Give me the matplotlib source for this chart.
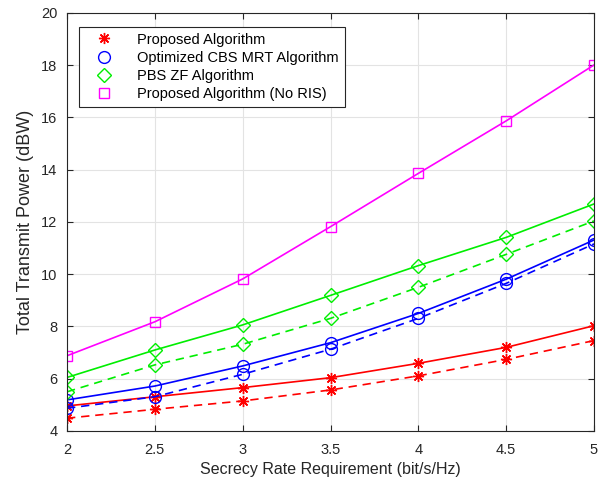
import matplotlib
matplotlib.use('Agg')
import matplotlib.pyplot as plt
from matplotlib.lines import Line2D

plt.rcParams['font.family'] = ['Liberation Sans', 'DejaVu Sans']

rate = [2, 2.5, 3, 3.5, 4, 4.5, 5]

# solid = one setting, dashed = the other
prop_solid = [4.96, 5.31, 5.66, 6.04, 6.59, 7.20, 8.03]
prop_dash = [4.49, 4.83, 5.15, 5.57, 6.11, 6.74, 7.46]
cbs_solid = [5.19, 5.72, 6.49, 7.38, 8.50, 9.81, 11.31]
cbs_dash = [4.87, 5.31, 6.17, 7.13, 8.31, 9.65, 11.16]
pbs_solid = [6.05, 7.10, 8.06, 9.19, 10.33, 11.41, 12.69]
pbs_dash = [5.50, 6.53, 7.32, 8.31, 9.50, 10.76, 12.04]
noris = [6.88, 8.18, 9.82, 11.82, 13.86, 15.87, 18.01]

labels = ['Proposed Algorithm', 'Optimized CBS MRT Algorithm',
          'PBS ZF Algorithm', 'Proposed Algorithm (No RIS)']

green = '#00ee00'
mag = '#ff00ff'
star = (8, 2, 0)
dash = (0, (5, 3.5))

fig = plt.figure(figsize=(6.16, 4.86), dpi=100)
ax = fig.add_axes([0.1088, 0.1132, 0.8555, 0.8601])

ax.plot(rate, prop_solid, '-', color='r', marker=star, ms=8, lw=1.2)
ax.plot(rate, prop_dash, ls=dash, color='r', marker=star, ms=8, lw=1.2)
ax.plot(rate, cbs_solid, '-', color='b', marker='o', ms=8.5, mfc='none', lw=1.2)
ax.plot(rate, cbs_dash, ls=dash, color='b', marker='o', ms=8.5, mfc='none', lw=1.2)
ax.plot(rate, pbs_solid, '-', color=green, marker='D', ms=7, mfc='none', lw=1.2)
ax.plot(rate, pbs_dash, ls=dash, color=green, marker='D', ms=7, mfc='none', lw=1.2)
ax.plot(rate, noris, '-', color=mag, marker='s', ms=7, mfc='none', lw=1.2)

handles = [
    Line2D([], [], ls='none', color='r', marker=star, ms=8),
    Line2D([], [], ls='none', color='b', marker='o', ms=8.5, mfc='none'),
    Line2D([], [], ls='none', color=green, marker='D', ms=7, mfc='none'),
    Line2D([], [], ls='none', color=mag, marker='s', ms=7, mfc='none'),
]
leg = ax.legend(handles, labels, loc='upper left', bbox_to_anchor=(0.023, 0.967),
                borderaxespad=0, fontsize=10.5, fancybox=False, edgecolor='#262626',
                framealpha=1, handlelength=2.6, borderpad=0.4, labelspacing=0.28,
                handletextpad=1.0)
leg.get_frame().set_linewidth(0.8)

ax.set_xlim(2, 5)
ax.set_ylim(4, 20)
ax.set_xticks([2, 2.5, 3, 3.5, 4, 4.5, 5])
ax.set_xticklabels(['2', '2.5', '3', '3.5', '4', '4.5', '5'])
ax.set_yticks(range(4, 21, 2))
ax.grid(True, color='#e3e3e3', lw=0.8)
ax.set_axisbelow(True)
ax.tick_params(direction='in', labelsize=10.5, top=True, right=True, length=4,
               color='#262626', labelcolor='#262626')
ax.tick_params(axis='x', pad=9)
ax.tick_params(axis='y', pad=7)
for s in ax.spines.values():
    s.set_color('#262626')
    s.set_linewidth(0.8)
ax.set_xlabel('Secrecy Rate Requirement (bit/s/Hz)', fontsize=11.5, color='#262626', labelpad=3)
ax.set_ylabel('Total Transmit Power (dBW)', fontsize=13, color='#262626', labelpad=5)

fig.savefig('out.png', dpi=100)
